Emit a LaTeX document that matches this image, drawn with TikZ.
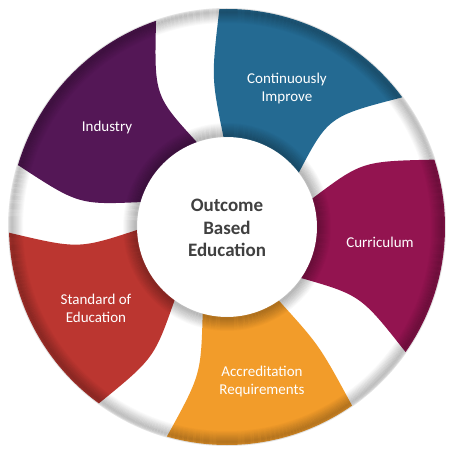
\documentclass[tikz,border=0pt]{standalone}
\usepackage{fontspec}
\setmainfont{Carlito}
\definecolor{obeBlue}{HTML}{246A92}
\definecolor{obePurple}{HTML}{541756}
\definecolor{obeMagenta}{HTML}{931450}
\definecolor{obeRed}{HTML}{BB3630}
\definecolor{obeOrange}{HTML}{F29C2A}
\definecolor{obeText}{HTML}{404040}
\tikzset{
  seglabel/.style={text=white, font=\fontsize{15}{18}\selectfont, align=center},
  centerlabel/.style={text=obeText, font=\fontsize{19}{22.5}\selectfont\bfseries, align=center},
  ringline/.style={line width=1pt, draw=black}
}
% #1 start angle, #2 end angle, #3 colour, #4 bow of trailing edge, #5 bow of leading edge
\def\obeSegment#1#2#3#4#5{%
  \fill[#3] (#1:88pt) .. controls (#1+#4:150pt) .. (#1:218pt)
    arc[start angle=#1, end angle=#2, radius=218pt]
    .. controls (#2+#5:150pt) .. (#2:88pt)
    arc[start angle=#2, end angle=#1, radius=88pt] -- cycle;}
\begin{document}
\begin{tikzpicture}[x=1pt,y=1pt]
\useasboundingbox (-227,-228) rectangle (227,227);
\fill[white] (-227,-228) rectangle (227,227);
% segments
\obeSegment{-35}{18}{obeMagenta}{8}{8}
\obeSegment{36.5}{92}{obeBlue}{11}{4}
\obeSegment{109}{163.5}{obePurple}{10}{8}
\obeSegment{181.5}{234}{obeRed}{7}{7}
\obeSegment{254}{305}{obeOrange}{6}{3}
% inner white disc
\fill[white] (0,0) circle[radius=90pt];
% outer ring shading
\foreach \r/\o in {204.5/0.02,205.5/0.04,206.5/0.06,207.5/0.08,208.5/0.1,209.5/0.12,210.5/0.14,211.5/0.16,212.5/0.18,213.5/0.2,214.5/0.22,215.5/0.22,216.5/0.2,217.5/0.17,218.5/0.11}
  \draw[ringline, draw opacity=\o] (0,0) circle[radius=\r pt];
% inner ring shading
\foreach \r/\o in {90.5/0.24,91.5/0.25,92.5/0.24,93.5/0.22,94.5/0.2,95.5/0.18,96.5/0.16,97.5/0.14,98.5/0.12,99.5/0.1,100.5/0.08,101.5/0.06,102.5/0.04,103.5/0.02}
  \draw[ringline, draw opacity=\o] (0,0) circle[radius=\r pt];
% labels
\node[centerlabel] (obe) at (0,-1) {Outcome\\Based\\Education};
\node[seglabel] (ci) at (60,138) {Continuously\\Improve};
\node[seglabel] (ind) at (-120,99) {Industry};
\node[seglabel] (cur) at (153,-15) {Curriculum};
\node[seglabel] (std) at (-131,-81) {Standard of\\Education};
\node[seglabel] (acc) at (35,-154) {Accreditation\\Requirements};
\end{tikzpicture}
\end{document}
